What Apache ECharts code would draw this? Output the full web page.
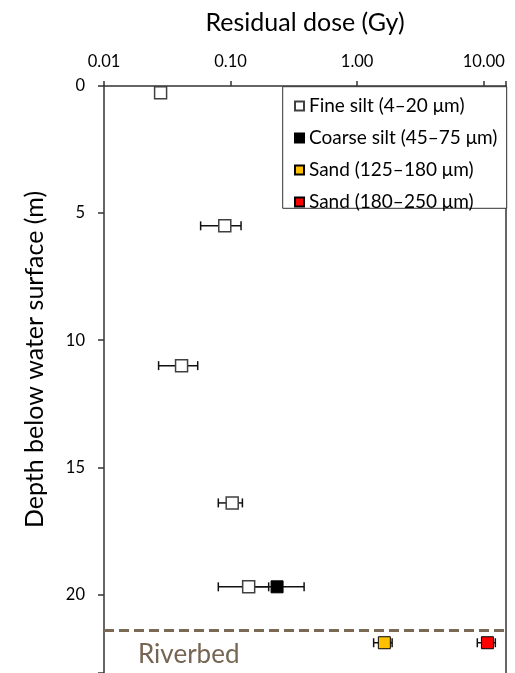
<!DOCTYPE html>
<html><head><meta charset="utf-8">
<script src="https://cdn.jsdelivr.net/npm/echarts@6/dist/echarts.min.js"></script>
<style>html,body{margin:0;padding:0;background:#fff}#c{width:515px;height:673px}</style>
</head><body><div id="c"></div>
<script>
// ---- data ----
const xTickLabels = ['0.01', '0.10', '1.00', '10.00'];
const yTickLabels = ['0', '5', '10', '15', '20'];
const seriesNames = ['Fine silt (4\u201320 \u03bcm)', 'Coarse silt (45\u201375 \u03bcm)', 'Sand (125\u2013180 \u03bcm)', 'Sand (180\u2013250 \u03bcm)'];

const fineDepth = [0.27, 5.5, 11.0, 16.4, 19.7];
const fineDose  = [0.028, 0.090, 0.041, 0.103, 0.139];
const fineLow   = [null, 0.058, 0.027, 0.080, 0.080];
const fineHigh  = [null, 0.121, 0.055, 0.124, 0.20];

const coarseDepth = [19.7];
const coarseDose  = [0.233];
const coarseLow   = [0.15];
const coarseHigh  = [0.381];

const sand1Depth = [21.9];
const sand1Dose  = [1.64];
const sand1Low   = [1.35];
const sand1High  = [1.89];

const sand2Depth = [21.9];
const sand2Dose  = [10.7];
const sand2Low   = [8.9];
const sand2High  = [12.35];

const riverbedDepth = 21.4;

// ---- build ----
function pts(d, x) { return x.map((v, i) => [v, d[i]]); }
function bars(d, lo, hi) {
  const out = [];
  d.forEach((y, i) => { if (lo[i] != null && hi[i] != null) out.push([lo[i], hi[i], y]); });
  return out;
}
const errData = [].concat(
  bars(fineDepth, fineLow, fineHigh),
  bars(coarseDepth, coarseLow, coarseHigh),
  bars(sand1Depth, sand1Low, sand1High),
  bars(sand2Depth, sand2Low, sand2High)
);

const FONT = 'Lato';
const chart = echarts.init(document.getElementById('c'), null, {renderer: 'canvas'});
const stroke = '#333';

function isDecade(v) { const l = Math.log10(v); return Math.abs(l - Math.round(l)) < 0.01; }

chart.setOption({
  animation: false,
  backgroundColor: '#fff',
  textStyle: {fontFamily: FONT},
  grid: {left: 104, top: 86, right: 9, bottom: -3, show: false},
  xAxis: {
    type: 'log', position: 'top', min: 0.01, max: 15, logBase: 10,
    name: 'Residual dose (Gy)', nameLocation: 'middle', nameGap: 51,
    nameTextStyle: {fontSize: 25, color: '#000', fontFamily: FONT},
    axisLine: {show: true, lineStyle: {color: stroke, width: 1.5}},
    axisTick: {show: true, inside: false, length: 5, lineStyle: {color: stroke, width: 1.5}},
    axisLabel: {
      fontSize: 16.5, color: '#000', margin: 16, fontFamily: FONT,
      formatter: v => {
        if (!isDecade(v)) return '';
        const idx = Math.round(Math.log10(v)) + 2;
        return xTickLabels[idx] || '';
      }
    },
    splitLine: {show: false}, minorTick: {show: false}
  },
  yAxis: [{
    type: 'value', inverse: true, min: 0, max: 23.09, interval: 5,
    name: 'Depth below water surface (m)', nameLocation: 'middle', nameGap: 57, nameRotate: 90,
    nameTextStyle: {fontSize: 25, color: '#000', fontFamily: FONT, padding: [0, 0, 0, 40]},
    axisLine: {show: true, lineStyle: {color: stroke, width: 1.5}},
    axisTick: {show: true, inside: false, length: 6, lineStyle: {color: stroke, width: 1.5}},
    axisLabel: {
      fontSize: 16.5, color: '#000', margin: 19, fontFamily: FONT,
      formatter: v => (Math.abs(v % 5) < 1e-9 ? yTickLabels[Math.round(v / 5)] : '')
    },
    splitLine: {show: false}
  }, {
    type: 'value', inverse: true, min: 0, max: 23.09, position: 'right',
    axisLine: {show: true, lineStyle: {color: stroke, width: 1.5}},
    axisTick: {show: false}, axisLabel: {show: false}, splitLine: {show: false}
  }],
  legend: {
    orient: 'vertical', left: 294, top: 96.5, padding: 0, z: 20,
    itemWidth: 9, itemHeight: 9, itemGap: 13,
    data: seriesNames,
    textStyle: {fontSize: 19, color: '#000', fontFamily: FONT}
  },
  graphic: [
    {type: 'rect', shape: {x: 282.7, y: 86.7, width: 224, height: 121.6}, style: {fill: '#fff', stroke: stroke, lineWidth: 1}, z: 1},
    {type: 'text', x: 138, y: 655, z: 10, style: {text: 'Riverbed', font: '26px Lato', fill: '#766552', textVerticalAlign: 'middle'}}
  ],
  series: [
    {
      type: 'custom', name: 'err', z: 2, silent: true,
      encode: {x: [0, 1], y: 2},
      data: errData,
      renderItem: (params, api) => {
        const lo = api.coord([api.value(0), api.value(2)]);
        const hi = api.coord([api.value(1), api.value(2)]);
        const h = 4.5;
        const st = {stroke: '#111', lineWidth: 1.5};
        return {type: 'group', children: [
          {type: 'line', shape: {x1: lo[0], y1: lo[1], x2: hi[0], y2: hi[1]}, style: st},
          {type: 'line', shape: {x1: lo[0], y1: lo[1] - h, x2: lo[0], y2: lo[1] + h}, style: st},
          {type: 'line', shape: {x1: hi[0], y1: hi[1] - h, x2: hi[0], y2: hi[1] + h}, style: st}
        ]};
      }
    },
    {
      type: 'scatter', name: seriesNames[0], z: 3, symbol: 'rect', symbolSize: 12,
      itemStyle: {color: '#fff', borderColor: '#404040', borderWidth: 1.5, opacity: 1},
      data: pts(fineDepth, fineDose),
      markLine: {
        silent: true, symbol: 'none', label: {show: false},
        lineStyle: {color: '#7a6954', width: 3, type: [10, 5]},
        data: [{yAxis: riverbedDepth}]
      }
    },
    {
      type: 'scatter', name: seriesNames[1], z: 3, symbol: 'rect', symbolSize: 12,
      itemStyle: {color: '#000', borderColor: '#000', borderWidth: 1, opacity: 1},
      data: pts(coarseDepth, coarseDose)
    },
    {
      type: 'scatter', name: seriesNames[2], z: 3, symbol: 'rect', symbolSize: 12,
      itemStyle: {color: '#FFC000', borderColor: '#000', borderWidth: 1, opacity: 1},
      data: pts(sand1Depth, sand1Dose)
    },
    {
      type: 'scatter', name: seriesNames[3], z: 3, symbol: 'rect', symbolSize: 12,
      itemStyle: {color: '#FF0000', borderColor: '#000', borderWidth: 1, opacity: 1},
      data: pts(sand2Depth, sand2Dose)
    }
  ]
});
</script>
</body></html>
